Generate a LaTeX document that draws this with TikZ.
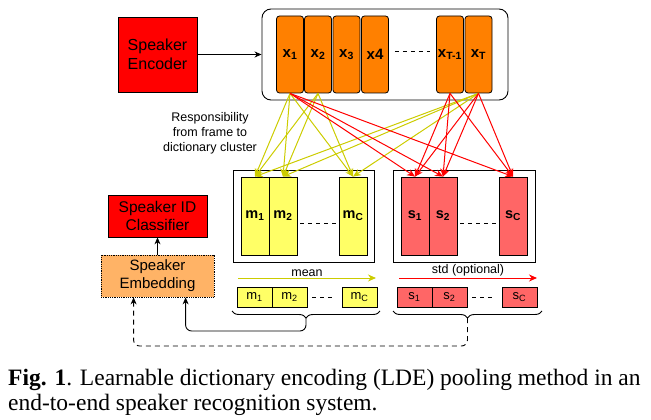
\documentclass[tikz,border=0pt]{standalone}
\usepackage{fontspec}
\setmainfont{Liberation Sans}
\newfontfamily\capfont{Liberation Serif}
\usetikzlibrary{arrows.meta,decorations.pathreplacing,calc}
\definecolor{encred}{HTML}{FF0000}
\definecolor{frameor}{HTML}{FF8000}
\definecolor{yelfill}{HTML}{FFFF66}
\definecolor{pinkfill}{HTML}{FF6666}
\definecolor{embfill}{HTML}{FFB366}
\definecolor{yline}{HTML}{CCCC00}
\definecolor{rline}{HTML}{FF0000}
\begin{document}
\begin{tikzpicture}[x=1pt,y=-1pt,
  every node/.style={inner sep=0pt},
  redbox/.style={draw, line width=0.8pt, fill=encred, align=center, font=\fontsize{16}{19}\selectfont},
  frame/.style={draw, line width=0.8pt, fill=frameor, rounded corners=3pt, minimum width=27, minimum height=77, font=\bfseries\fontsize{15}{15}\selectfont},
  ybig/.style={draw, line width=0.8pt, fill=yelfill, minimum width=28, minimum height=78, font=\bfseries\fontsize{14.5}{14.5}\selectfont},
  rbig/.style={draw, line width=0.8pt, fill=pinkfill, minimum width=28, minimum height=78, font=\bfseries\fontsize{14.5}{14.5}\selectfont},
  ysmall/.style={draw, line width=0.8pt, fill=yelfill, minimum width=35, minimum height=20, font=\fontsize{13}{13}\selectfont},
  rsmall/.style={draw, line width=0.8pt, fill=pinkfill, minimum width=35, minimum height=20, font=\fontsize{13}{13}\selectfont},
  group/.style={draw, line width=0.8pt},
  dots/.style={line width=0.8pt, dash pattern=on 4pt off 4pt},
  yarrow/.style={yline, line width=1pt, -{Stealth[length=8pt,width=7pt]}},
  rarrow/.style={rline, line width=1pt, -{Stealth[length=8pt,width=7pt]}},
  blk/.style={line width=0.9pt, -{Stealth[length=7pt,width=6pt]}},
  lbl/.style={font=\fontsize{12.5}{15}\selectfont, align=center},
  brc/.style={decorate, decoration={brace, mirror, amplitude=7pt}, line width=0.9pt},
  captext/.style={anchor=base west, font=\capfont\fontsize{23.5}{25}\selectfont}
]
\useasboundingbox (0,0) rectangle (651,420);

% encoder and frames
\node[redbox, minimum width=79, minimum height=75] (enc) at (157.5,54.5) {Speaker\\Encoder};
\node[draw, line width=0.9pt, rounded corners=9pt, minimum width=246, minimum height=91] (outer) at (385,54.5) {};
\node[frame] (x1) at (290,54.5) {x\textsubscript{1}};
\node[frame] (x2) at (318,54.5) {x\textsubscript{2}};
\node[frame] (x3) at (346.5,54.5) {x\textsubscript{3}};
\node[frame] (x4) at (375,54.5) {x4};
\node[frame] (xTm) at (450,54.5) {x\textsubscript{T-1}};
\node[frame] (xT) at (478.5,54.5) {x\textsubscript{T}};
\draw[dots] ($(x4.east)+(6,-3)$) -- ($(xTm.west)+(-6,-3)$);
\draw[blk] (enc) -- (outer.west);

% mean / std groups
\node[group, minimum width=141, minimum height=92] (mgrp) at (303.5,216) {};
\node[ybig] (m1) at (255,216) {m\textsubscript{1}};
\node[ybig] (m2) at (283,216) {m\textsubscript{2}};
\node[ybig] (mC) at (353,216) {m\textsubscript{C}};
\draw[dots] ($(m2.east)+(3,7)$) -- ($(mC.west)+(-3,7)$);

\node[group, minimum width=142, minimum height=92] (sgrp) at (464,216) {};
\node[rbig] (s1) at (415,216) {s\textsubscript{1}};
\node[rbig] (s2) at (443,216) {s\textsubscript{2}};
\node[rbig] (sC) at (513,216) {s\textsubscript{C}};
\draw[dots] ($(s2.east)+(3,7)$) -- ($(sC.west)+(-3,7)$);

% responsibility arrows
\foreach \s in {x1,x2,xT}
  \foreach \t in {m1,m2,mC}
    \draw[yarrow] (\s.south) -- (\t.north);
\foreach \s in {x1,xTm,xT}
  \foreach \t in {s1,s2,sC}
    \draw[rarrow] (\s.south) -- (\t.north);

\node[lbl] (resp) at (210,133) {Responsibility\\from frame to\\dictionary cluster};

% mean / std arrows
\coordinate (ma) at (238,278);
\coordinate (mb) at (376,278);
\draw[yarrow] (ma) -- (mb) node[midway, above=1pt, black, font=\fontsize{12.5}{15}\selectfont] (meanl) {mean};
\coordinate (sa) at (399,278);
\coordinate (sb) at (537,278);
\draw[rarrow] (sa) -- (sb) node[midway, above=1pt, black, font=\fontsize{12.5}{15}\selectfont] (stdl) {std (optional)};

% vectors
\node[ysmall] (v1) at (254.5,297) {m\textsubscript{1}};
\node[ysmall] (v2) at (289.5,297) {m\textsubscript{2}};
\node[ysmall] (vC) at (359.5,297) {m\textsubscript{C}};
\draw[dots] ($(v2.east)+(5,0)$) -- ($(vC.west)+(-8,0)$);
\node[rsmall] (w1) at (414.5,297) {s\textsubscript{1}};
\node[rsmall] (w2) at (449.5,297) {s\textsubscript{2}};
\node[rsmall] (wC) at (519.5,297) {s\textsubscript{C}};
\draw[dots] ($(w2.east)+(5,0)$) -- ($(wC.west)+(-8,0)$);

% braces
\draw[brc] (232,311) -- (380,311);
\coordinate (bm) at (306,318);
\draw[brc] (393,311) -- (542,311);
\coordinate (bs) at (467.5,318);

% classifier and embedding
\node[redbox, minimum width=99, minimum height=42, font=\fontsize{15.5}{18}\selectfont] (cls) at (157.5,216) {Speaker ID\\Classifier};
\node[draw, densely dotted, line width=0.8pt, fill=embfill, minimum width=113, minimum height=42, align=center, font=\fontsize{15}{18}\selectfont] (emb) at (157.5,276) {Speaker\\Embedding};
\draw[blk] (emb) -- (cls);

\draw[blk, rounded corners=6pt] (bm) -- ++(0,13) -| ($(emb.south west)+(85,0)$);
\draw[blk, dash pattern=on 5pt off 4pt, rounded corners=6pt] (bs) -- ++(0,28) -| ($(emb.south west)+(33,0)$);

% caption
\node[captext] (cap1) at (8,385) {\textbf{Fig. 1}. Learnable dictionary encoding (LDE) pooling method in an};
\node[captext] (cap2) at (8,410) {end-to-end speaker recognition system.};
\end{tikzpicture}
\end{document}
